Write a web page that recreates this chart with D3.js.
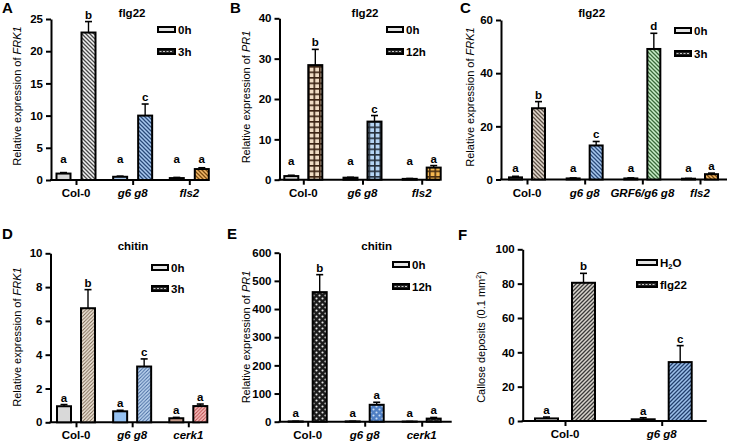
<!DOCTYPE html>
<html><head><meta charset="utf-8">
<script src="https://cdn.jsdelivr.net/npm/d3@7"></script>
<style>
body{margin:0;background:#fff;}
svg{display:block;font-family:"Liberation Sans",Arial,sans-serif;}
</style></head><body>
<svg id="chart" width="729" height="446"></svg>
<script>
// ---------- DATA ----------
// Panel A (flg22, FRK1)
const catsA = ["Col-0","g6 g8","fls2"];
const valsA0h = [1.0, 0.5, 0.3];
const errA0h  = [0.15, 0.1, 0.1];
const valsA3h = [22.9, 10.0, 1.7];
const errA3h  = [1.7, 1.8, 0.2];
const letA0h = ["a","a","a"];
const letA3h = ["b","c","a"];
const ticksA = [0,5,10,15,20,25];
// Panel B (flg22, PR1)
const catsB = ["Col-0","g6 g8","fls2"];
const valsB0h  = [0.9, 0.5, 0.2];
const errB0h   = [0.2, 0.1, 0.1];
const valsB12h = [28.4, 14.4, 3.0];
const errB12h  = [3.9, 1.5, 0.5];
const letB0h  = ["a","a","a"];
const letB12h = ["b","c","a"];
const ticksB = [0,10,20,30,40];
// Panel C (flg22, FRK1)
const catsC = ["Col-0","g6 g8","GRF6/g6 g8","fls2"];
const valsC0h = [0.8, 0.4, 0.4, 0.3];
const errC0h  = [0.4, 0.2, 0.2, 0.1];
const valsC3h = [26.8, 12.8, 49.1, 2.0];
const errC3h  = [2.5, 1.5, 5.9, 0.4];
const letC0h = ["a","a","a","a"];
const letC3h = ["b","c","d","a"];
const ticksC = [0,20,40,60];
// Panel D (chitin, FRK1)
const catsD = ["Col-0","g6 g8","cerk1"];
const valsD0h = [0.95, 0.65, 0.24];
const errD0h  = [0.1, 0.06, 0.05];
const valsD3h = [6.75, 3.3, 0.96];
const errD3h  = [1.1, 0.45, 0.12];
const letD0h = ["a","a","a"];
const letD3h = ["b","c","a"];
const ticksD = [0,2,4,6,8,10];
// Panel E (chitin, PR1)
const catsE = ["Col-0","g6 g8","cerk1"];
const valsE0h  = [1, 1, 0.5];
const errE0h   = [0.5, 0.5, 0.3];
const valsE12h = [460, 60, 11];
const errE12h  = [62, 9, 4];
const letE0h  = ["a","a","a"];
const letE12h = ["b","a","a"];
const ticksE = [0,100,200,300,400,500,600];
// Panel F (callose)
const catsF = ["Col-0","g6 g8"];
const valsFH2O = [1.5, 1.0];
const errFH2O  = [0.8, 0.9];
const valsFflg = [80.5, 34.3];
const errFflg  = [5.5, 9.6];
const letFH2O = ["a","a"];
const letFflg = ["b","c"];
const ticksF = [0,20,40,60,80,100];

// ---------- PATTERNS ----------
const svg = d3.select("#chart");
const defs = svg.append("defs");
function hatch(id,bg,fg,dir,s,wf){
  s = s||4; wf = wf||0.32;
  const p = defs.append("pattern").attr("id",id).attr("patternUnits","userSpaceOnUse").attr("width",s).attr("height",s);
  p.append("rect").attr("width",s).attr("height",s).attr("fill",bg);
  const d = dir==="/"
    ? `M${-s/2},${s/2} L${s/2},${-s/2} M0,${s} L${s},0 M${s/2},${s*1.5} L${s*1.5},${s/2}`
    : `M${-s/2},${s/2} L${s/2},${s*1.5} M0,0 L${s},${s} M${s/2},${-s/2} L${s*1.5},${s/2}`;
  p.append("path").attr("d",d).attr("stroke",fg).attr("stroke-width",s*wf);
  return `url(#${id})`;
}
function grid(id,bg,fg,s){
  s = s||5.5;
  const p = defs.append("pattern").attr("id",id).attr("patternUnits","userSpaceOnUse").attr("width",s).attr("height",s);
  p.append("rect").attr("width",s).attr("height",s).attr("fill",bg);
  p.append("path").attr("d",`M0,0.8 L${s},0.8 M0.8,0 L0.8,${s}`).attr("stroke",fg).attr("stroke-width",1.6);
  return `url(#${id})`;
}
function dots(id,bg,fg,s){
  s = s||6;
  const p = defs.append("pattern").attr("id",id).attr("patternUnits","userSpaceOnUse").attr("width",s).attr("height",s);
  p.append("rect").attr("width",s).attr("height",s).attr("fill",bg);
  p.append("circle").attr("cx",s/4).attr("cy",s/4).attr("r",s*0.18).attr("fill",fg);
  p.append("circle").attr("cx",3*s/4).attr("cy",3*s/4).attr("r",s*0.18).attr("fill",fg);
  return `url(#${id})`;
}

// ---------- PANELS ----------
const panels = [
 {label:"A", lx:2, ly:13, xAxis:51, xEnd:201, yTop:19, yBot:180, max:25, ticks:ticksA, cats:catsA, catRange:[76,189.3],
  off:12.5, barW:14, letterFloor:17, title:"flg22", tx:132, ty:17,
  leg:{x:158,y:27,w:17,gap:22,names:["0h","3h"]},
  ylab:{pre:"Relative expression of ", gene:"FRK1", x:21, y:96},
  series:[
   {vals:valsA0h, errs:errA0h, lets:letA0h, fills:["#d6d6d6","#a9c7ea","#8a8a8a"]},
   {vals:valsA3h, errs:errA3h, lets:letA3h, fills:[hatch("hA1","#f2f2f2","#4a4a4a","\\"),hatch("hA2","#a8c8ef","#2a4a7a","\\"),hatch("hA3","#f2b868","#7a4a10","\\")]}
  ]},
 {label:"B", lx:230, ly:13, xAxis:279.5, xEnd:440, yTop:18.3, yBot:179.7, max:40, ticks:ticksB, cats:catsB, catRange:[303.3,421.7],
  off:12, barW:14, letterFloor:15, title:"flg22", tx:365, ty:17,
  leg:{x:387,y:27,w:16,gap:22,names:["0h","12h"]},
  ylab:{pre:"Relative expression of ", gene:"PR1", x:250, y:97},
  series:[
   {vals:valsB0h, errs:errB0h, lets:letB0h, fills:["#d6d6d6","#c0c8d0","#999"]},
   {vals:valsB12h, errs:errB12h, lets:letB12h, fills:[grid("gB1","#f0dcc4","#3a2212"),grid("gB2","#b4d4f4","#26303c"),grid("gB3","#f6b850","#4a2e10")]}
  ]},
 {label:"C", lx:460, ly:13, xAxis:501, xEnd:727, yTop:20, yBot:179.5, max:60, ticks:ticksC, cats:catsC, catRange:[527,700],
  off:11.5, barW:13, letterFloor:8, title:"flg22", tx:591.7, ty:17,
  leg:{x:675,y:28,w:16,gap:23,names:["0h","3h"]},
  ylab:{pre:"Relative expression of ", gene:"FRK1", x:474, y:97},
  series:[
   {vals:valsC0h, errs:errC0h, lets:letC0h, fills:["#aaa","#aaa","#aaa","#aaa"]},
   {vals:valsC3h, errs:errC3h, lets:letC3h, fills:[hatch("hC1","#e0d6cc","#5e5248","\\"),hatch("hC2","#a8c8ef","#2a4a7a","\\"),hatch("hC3","#c8eec8","#3a6a3a","\\"),hatch("hC4","#f2b868","#7a4a10","\\")]}
  ]},
 {label:"D", lx:2, ly:239, xAxis:50.5, xEnd:200, yTop:253.3, yBot:422.3, max:10, ticks:ticksD, cats:catsD, catRange:[76,188.3],
  off:12, barW:14, letterFloor:0, title:"chitin", tx:133, ty:250,
  leg:{x:152,y:265,w:16,gap:21,names:["0h","3h"]},
  ylab:{pre:"Relative expression of ", gene:"FRK1", x:21, y:337},
  series:[
   {vals:valsD0h, errs:errD0h, lets:letD0h, fills:["#d9d9d9","#96c2f2","#c59a8a"]},
   {vals:valsD3h, errs:errD3h, lets:letD3h, fills:[hatch("hD1","#f2e9dc","#7a6652","/",3.5,0.3),hatch("hD2","#c0d8f2","#466aa0","/",3.5,0.3),hatch("hD3","#f8c0c0","#b84a4a","/",3.5,0.3)]}
  ]},
 {label:"E", lx:227, ly:239, xAxis:279.5, xEnd:451.7, yTop:252.7, yBot:421.7, max:600, ticks:ticksE, cats:catsE, catRange:[307.7,421.7],
  off:12, barW:14, letterFloor:5, title:"chitin", tx:376.7, ty:250,
  leg:{x:393,y:262,w:16,gap:22,names:["0h","12h"]},
  ylab:{pre:"Relative expression of ", gene:"PR1", x:250, y:337},
  series:[
   {vals:valsE0h, errs:errE0h, lets:letE0h, fills:["#888","#888","#888"]},
   {vals:valsE12h, errs:errE12h, lets:letE12h, fills:[dots("dE1","#1c1c1c","#e8e8e8"),dots("dE2","#4f7fc4","#c8dcf4"),dots("dE3","#333","#ddd")]}
  ]},
 {label:"F", lx:458, ly:240, xAxis:522.7, xEnd:706.7, yTop:249.3, yBot:421, max:100, ticks:ticksF, cats:catsF, catRange:[565,661.7],
  off:18.5, barW:23, letterFloor:4, title:"", tx:0, ty:0,
  leg:{x:637,y:260,w:20,gap:22,names:["H2O","flg22"]},
  ylab:{callose:true, x:485, y:337},
  series:[
   {vals:valsFH2O, errs:errFH2O, lets:letFH2O, fills:["#f0f0f0","#f0f0f0"]},
   {vals:valsFflg, errs:errFflg, lets:letFflg, fills:[hatch("hF1","#d8d4cc","#3a3a3a","/"),hatch("hF2","#9cc0ea","#23406e","/")]}
  ]}
];

function drawPanel(p){
  const g = svg.append("g");
  const y = d3.scaleLinear().domain([0,p.max]).range([p.yBot,p.yTop]);
  const x = d3.scalePoint().domain(p.cats).range(p.catRange);

  g.append("text").attr("x",p.lx).attr("y",p.ly).attr("font-size",15).attr("font-weight","bold").text(p.label);

  const ya = g.append("g").attr("transform",`translate(${p.xAxis},0)`)
    .call(d3.axisLeft(y).tickValues(p.ticks).tickSize(5).tickSizeOuter(0).tickPadding(3).tickFormat(d3.format("d")));
  ya.select(".domain").attr("stroke-width",2);
  ya.selectAll(".tick line").attr("stroke-width",2);
  ya.selectAll("text").attr("font-size",11.5).attr("font-weight","bold").attr("fill","#000")
    .style("font-family",'"Liberation Sans",Arial,sans-serif');

  g.append("line").attr("x1",p.xAxis-1).attr("x2",p.xEnd).attr("y1",p.yBot).attr("y2",p.yBot)
    .attr("stroke","#000").attr("stroke-width",2);
  const xa = g.append("g").attr("transform",`translate(0,${p.yBot})`)
    .call(d3.axisBottom(x).tickSize(5).tickSizeOuter(0).tickFormat(""));
  xa.select(".domain").remove();
  xa.selectAll(".tick line").attr("stroke-width",2);
  g.selectAll(null).data(p.cats).enter().append("text")
    .attr("x",d=>x(d)).attr("y",p.yBot+17).attr("text-anchor","middle")
    .attr("font-size",11.5).attr("font-weight","bold")
    .attr("font-style",d=>d==="Col-0"?"normal":"italic").text(d=>d);

  p.series.forEach((s,si)=>{
    const off = si===0 ? -p.off : p.off;
    p.cats.forEach((c,i)=>{
      const cx = x(c)+off, v = s.vals[i], e = s.errs[i];
      const top = y(v), et = y(v+e);
      g.append("rect").attr("x",cx-p.barW/2).attr("y",top).attr("width",p.barW).attr("height",p.yBot-top)
        .attr("fill",s.fills[i]).attr("stroke","#000").attr("stroke-width",2);
      g.append("line").attr("x1",cx).attr("x2",cx).attr("y1",top).attr("y2",et).attr("stroke","#000").attr("stroke-width",1.4);
      g.append("line").attr("x1",cx-3.5).attr("x2",cx+3.5).attr("y1",et).attr("y2",et).attr("stroke","#000").attr("stroke-width",1.6);
      const ly = Math.min(et-3, p.yBot-p.letterFloor);
      g.append("text").attr("x",cx).attr("y",ly).attr("text-anchor","middle")
        .attr("font-size",11.5).attr("font-weight","bold").text(s.lets[i]);
    });
  });

  if(p.title){
    g.append("text").attr("x",p.tx).attr("y",p.ty).attr("text-anchor","middle")
      .attr("font-size",11.5).attr("font-weight","bold").text(p.title);
  }

  p.leg.names.forEach((n,i)=>{
    const ly = p.leg.y + i*p.leg.gap;
    if(i===0){
      g.append("rect").attr("x",p.leg.x).attr("y",ly).attr("width",p.leg.w).attr("height",5)
        .attr("fill","#e4e4e4").attr("stroke","#000").attr("stroke-width",2);
    } else {
      g.append("rect").attr("x",p.leg.x).attr("y",ly).attr("width",p.leg.w).attr("height",5)
        .attr("fill","#222").attr("stroke","#000").attr("stroke-width",2);
      g.append("line").attr("x1",p.leg.x+1.5).attr("x2",p.leg.x+p.leg.w-1.5).attr("y1",ly+2.5).attr("y2",ly+2.5)
        .attr("stroke","#ccc").attr("stroke-width",1.2).attr("stroke-dasharray","2,1.5");
    }
    const t = g.append("text").attr("x",p.leg.x+p.leg.w+3).attr("y",ly+6.5)
      .attr("font-size",11.5).attr("font-weight","bold");
    if(n==="H2O"){
      t.append("tspan").text("H");
      t.append("tspan").attr("font-size",7.5).attr("dy",2.5).text("2");
      t.append("tspan").attr("dy",-2.5).text("O");
    } else t.text(n);
  });

  const yl = g.append("text").attr("transform",`translate(${p.ylab.x},${p.ylab.y}) rotate(-90)`)
    .attr("text-anchor","middle").attr("font-size",11);
  if(p.ylab.callose){
    yl.append("tspan").text("Callose deposits (0.1 mm");
    yl.append("tspan").attr("font-size",7).attr("dy",-4).text("2");
    yl.append("tspan").attr("dy",4).text(")");
  } else {
    yl.append("tspan").text(p.ylab.pre);
    yl.append("tspan").attr("font-style","italic").text(p.ylab.gene);
  }
}
panels.forEach(drawPanel);
</script>
</body></html>
